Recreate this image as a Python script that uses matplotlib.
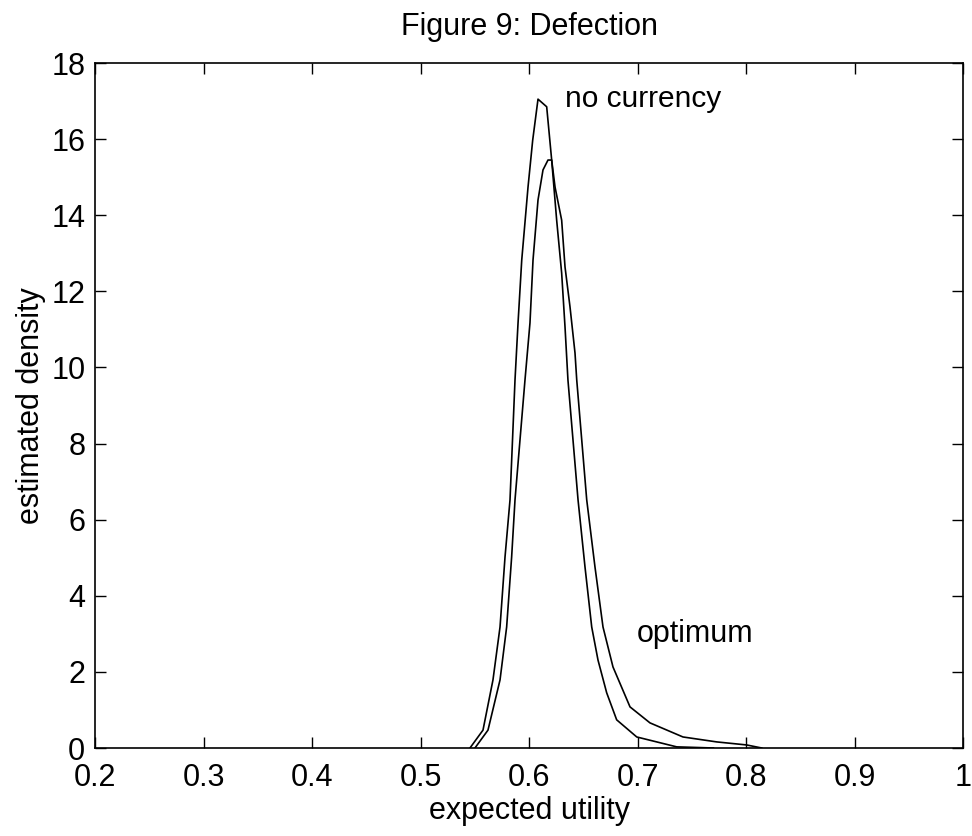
import matplotlib
matplotlib.use('Agg')
import matplotlib.pyplot as plt

# density estimates
x_nocur = [0.5456, 0.5576, 0.5668, 0.5733, 0.5779, 0.5825, 0.5871, 0.5899, 0.5933,
           0.5991, 0.6034, 0.6083, 0.6163, 0.6209, 0.6255, 0.6301, 0.6332, 0.6359,
           0.6452, 0.6516, 0.6578, 0.6636, 0.6716, 0.6808, 0.6993, 0.7361, 0.7700]
y_nocur = [0.0, 0.47, 1.79, 3.18, 5.02, 6.52, 9.67, 11.17, 12.82,
           14.74, 15.97, 17.05, 16.85, 15.45, 13.87, 12.48, 11.06, 9.67,
           6.52, 4.76, 3.18, 2.31, 1.45, 0.74, 0.29, 0.03, 0.0]

x_opt = [0.5502, 0.5622, 0.5733, 0.5794, 0.5840, 0.5871, 0.5963, 0.6009, 0.6037,
         0.6083, 0.6129, 0.6175, 0.6209, 0.6240, 0.6301, 0.6332, 0.6378, 0.6424,
         0.6440, 0.6532, 0.6608, 0.6682, 0.6774, 0.6931, 0.7115, 0.7419, 0.7730,
         0.8006, 0.8145]
y_opt = [0.0, 0.47, 1.79, 3.18, 5.02, 6.52, 9.67, 11.17, 12.82,
         14.40, 15.19, 15.45, 15.45, 14.74, 13.87, 12.64, 11.59, 10.38,
         9.67, 6.52, 4.76, 3.18, 2.13, 1.08, 0.66, 0.29, 0.16,
         0.08, 0.0]

xticks = [0.2, 0.3, 0.4, 0.5, 0.6, 0.7, 0.8, 0.9, 1.0]
xticklabels = ['0.2', '0.3', '0.4', '0.5', '0.6', '0.7', '0.8', '0.9', '1']
yticks = list(range(0, 19, 2))

plt.rcParams['font.family'] = ['Liberation Sans', 'DejaVu Sans']

fig = plt.figure(figsize=(9.72, 8.36), dpi=100)
ax = fig.add_axes([95 / 972, 1 - 748 / 836, 868 / 972, 685 / 836])

ax.plot(x_nocur, y_nocur, color='black', lw=1.2)
ax.plot(x_opt, y_opt, color='black', lw=1.2)

ax.text(0.633, 16.84, 'no currency', fontsize=21.5, va='baseline')
ax.text(0.699, 2.79, 'optimum', fontsize=22, va='baseline')

ax.set_xlim(0.2, 1.0)
ax.set_ylim(0, 18)
ax.set_xticks(xticks)
ax.set_xticklabels(xticklabels)
ax.set_yticks(yticks)
ax.tick_params(direction='in', length=8, width=1, labelsize=22,
               top=True, right=True)
ax.tick_params(axis='x', pad=11)
ax.tick_params(axis='y', pad=7)
for s in ax.spines.values():
    s.set_linewidth(1.2)

ax.set_title('Figure 9: Defection', fontsize=22, pad=20)
ax.set_xlabel('expected utility', fontsize=22, labelpad=2)
ax.set_ylabel('estimated density', fontsize=22, labelpad=4)

fig.savefig('out.png', dpi=100, facecolor='white')
